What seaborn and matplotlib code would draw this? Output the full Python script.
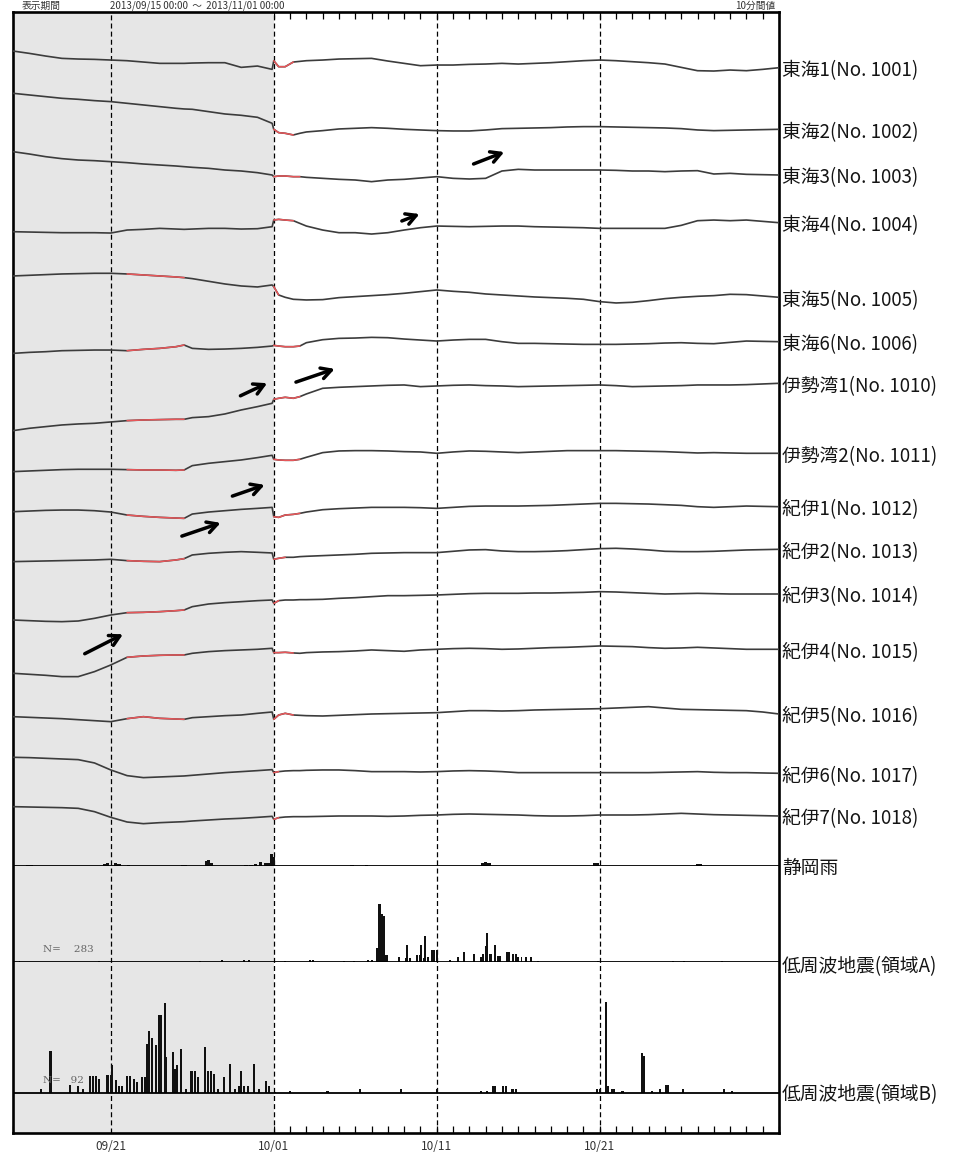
import numpy as np
import pandas as pd
import seaborn as sns
import matplotlib
matplotlib.use("Agg")
import matplotlib.pyplot as plt

# time grid, days after 2013/09/15 00:00
T = [0, 1, 2, 3, 4, 5, 6, 7, 8, 9, 10, 10.5, 11, 12, 13, 14, 15,
     15.9, 16, 16.3, 16.7, 17.2, 17.6] + list(range(18, 48))

stations = ["東海1(No. 1001)", "東海2(No. 1002)", "東海3(No. 1003)", "東海4(No. 1004)",
            "東海5(No. 1005)", "東海6(No. 1006)", "伊勢湾1(No. 1010)", "伊勢湾2(No. 1011)",
            "紀伊1(No. 1012)", "紀伊2(No. 1013)", "紀伊3(No. 1014)", "紀伊4(No. 1015)",
            "紀伊5(No. 1016)", "紀伊6(No. 1017)", "紀伊7(No. 1018)"]

# strain change, arbitrary units (up = positive)
tokai1 = [50, 43, 35, 28, 26, 25, 23, 21, 17, 13, 13, 13, 14, 15, 15, 1, 5,
          -5, 21, 3, 3, 17, 19,
          21, 23, 26, 27, 28, 20, 13, 6, 8, 8, 10, 11, 13, 11, 13, 15, 18, 21, 23, 21,
          18, 15, 11, 1, -9, -10, -7, -9, -5, 0]
tokai2 = [108, 103, 98, 93, 90, 86, 83, 78, 73, 68, 63, 61, 60, 53, 46, 42, 36,
          18, 0, -10, -12, -17, -12,
          -8, -4, 1, 3, 5, 3, 0, -2, -4, -5, -5, -2, 2, 3, 4, 5, 7, 8, 8, 7,
          6, 5, 4, 2, -2, -4, -3, -2, -1, 0]
tokai3 = [70, 63, 55, 49, 45, 43, 40, 37, 33, 30, 27, 25, 23, 20, 15, 12, 7,
          0, -5, -3, -3, -5, -5,
          -7, -10, -13, -15, -20, -15, -13, -9, -5, -10, -12, -10, 12, 17, 15, 15, 15, 15, 15, 14,
          12, 12, 10, 12, 13, 3, 5, 2, 1, 0]
tokai4 = [-27, -28, -29, -30, -30, -30, -31, -22, -20, -17, -19, -20, -19, -17, -17, -19, -18,
          -12, 8, 10, 8, 6, -2,
          -10, -22, -30, -30, -34, -30, -22, -15, -10, -11, -12, -11, -10, -10, -12, -13, -14, -15, -17, -17,
          -17, -17, -17, -8, 6, 8, 6, 8, 4, 0]
tokai5 = [64, 66, 68, 70, 71, 72, 72, 70, 67, 64, 61, 59, 56, 48, 40, 34, 31,
          37, 32, 7, 0, -6, -7,
          -8, -7, -1, 2, 5, 8, 12, 17, 22, 18, 15, 10, 7, 4, 1, -1, -3, -6, -13, -17,
          -15, -10, -4, 0, 3, 5, 9, 8, 4, 0]
tokai6 = [-35, -32, -30, -27, -26, -25, -25, -27, -23, -20, -15, -10, -20, -23, -22, -20, -17,
          -13, -11, -13, -15, -15, -13,
          -3, 6, 10, 11, 13, 12, 8, 5, 2, 5, 7, 7, 0, -5, -5, -6, -7, -8, -8, -8,
          -7, -6, -4, -3, -5, -6, -2, 2, 1, 0]
ise1 = [-142, -135, -130, -125, -122, -120, -116, -112, -110, -109, -108, -108, -103, -100, -92, -80, -70,
        -60, -48, -45, -42, -45, -40,
        -32, -15, -12, -10, -8, -6, -5, -10, -8, -6, -5, -7, -8, -10, -9, -8, -7, -6, -5, -7,
        -10, -9, -8, -7, -5, -5, -5, -4, -2, 0]
ise2 = [-55, -53, -51, -49, -48, -48, -48, -49, -50, -50, -51, -50, -37, -30, -25, -20, -13,
        -6, -18, -20, -21, -21, -18,
        -12, 2, 7, 8, 8, 7, 5, 4, 0, 4, 7, 6, 4, 2, 4, 6, 8, 8, 8, 8,
        7, 6, 5, 3, 1, 2, 1, 0, 0, 0]
kii1 = [-15, -13, -11, -10, -10, -12, -16, -25, -29, -32, -34, -35, -22, -16, -12, -8, -5,
        -2, -30, -32, -25, -23, -20,
        -16, -9, -6, -4, -2, -2, -2, -3, -5, -2, 1, 2, 2, 2, 3, 4, 6, 8, 10, 10,
        9, 8, 6, 4, 0, -2, 0, 2, 1, 0]
kii2 = [-37, -36, -35, -34, -33, -32, -30, -34, -36, -37, -32, -28, -17, -12, -9, -7, -9,
        -11, -30, -27, -24, -24, -22,
        -21, -19, -17, -15, -12, -11, -10, -10, -10, -6, -2, -1, -5, -7, -7, -6, -4, -1, 2, 3,
        1, -2, -6, -7, -7, -6, -4, -2, -1, 0]
kii3 = [-78, -80, -82, -83, -81, -73, -63, -56, -55, -53, -50, -48, -38, -30, -26, -23, -20,
        -18, -28, -20, -18, -18, -17,
        -17, -16, -13, -11, -8, -5, -5, -4, -3, -1, 1, 2, 2, 2, 3, 3, 4, 5, 7, 6,
        4, 2, 0, 1, 2, 1, 0, 0, 0, 0]
kii4 = [-72, -75, -78, -82, -82, -67, -47, -24, -20, -18, -17, -17, -12, -7, -4, -2, 0,
        3, -10, -10, -9, -11, -12,
        -10, -8, -7, -5, -2, -4, -6, -2, 0, 2, 3, 2, 0, 1, 3, 5, 6, 8, 10, 9,
        8, 5, 3, 4, 6, 4, 2, 0, 0, 0]
kii5 = [-8, -10, -12, -14, -17, -20, -23, -14, -8, -13, -15, -16, -11, -8, -5, -3, 2,
        6, -16, -3, 2, -3, -4,
        -5, -6, -4, -2, 0, 1, 2, 3, 4, 7, 10, 10, 9, 10, 12, 13, 14, 15, 16, 18,
        20, 22, 18, 14, 13, 12, 11, 10, 6, 0]
kii6 = [48, 47, 45, 43, 41, 31, 10, -7, -13, -11, -9, -8, -6, -2, 2, 5, 8,
        11, 2, 5, 7, 8, 8,
        9, 10, 10, 8, 5, 5, 5, 4, 5, 7, 8, 7, 5, 2, 2, 2, 2, 2, 2, 2,
        2, 2, 3, 4, 5, 3, 2, 2, 1, 0]
kii7 = [28, 27, 26, 25, 23, 13, -4, -18, -23, -20, -18, -17, -15, -12, -9, -7, -4,
        -1, -10, -5, -3, -2, -2,
        -2, -1, 0, 0, 0, -1, 0, 2, 3, 5, 6, 5, 4, 3, 1, 0, 0, 1, 3, 3,
        3, 4, 6, 8, 6, 4, 3, 2, 1, 0]
traces = [tokai1, tokai2, tokai3, tokai4, tokai5, tokai6, ise1, ise2,
          kii1, kii2, kii3, kii4, kii5, kii6, kii7]

# periods drawn in red (corrected data)
red_spans = [[(16, 17.2)], [(16, 17.2)], [(16, 17.6)], [(16, 17.2)],
             [(7, 10.5), (16, 16.3)], [(7, 10.5), (16, 17.6)], [(7, 10.5), (16, 17.6)],
             [(7, 10.5), (16, 17.6)], [(7, 10.5), (16, 17.6)], [(7, 10.5), (16, 16.7)],
             [(7, 10.5), (16, 16.3)], [(7, 10.5), (16, 17.2)], [(7, 10.5), (16, 17.2)],
             [(16, 16.3)], [(16, 16.3)]]

# Shizuoka rain (mm/h)
rain_day = [0.9, 1.1, 5.6, 5.8, 6.3, 6.5, 7.1, 10.4, 10.6, 11.9, 12.0, 12.2, 14.3, 14.6,
            14.9, 15.2, 15.5, 15.7, 15.85, 15.95, 20.8, 21.7, 28.8, 29.0, 29.2, 35.7, 35.85,
            42.0, 42.2]
rain_mm = [1, 1, 2, 3, 3, 2, 1, 1, 1, 5, 6, 3, 1, 1, 2, 4, 3, 3, 12, 9, 1, 1, 3, 4, 3, 3, 3, 2, 2]

# low frequency earthquakes, region A (counts)
lfeA_day = [0.4, 5.3, 11.5, 12.8, 14.2, 14.5, 16.7, 18.2, 18.4, 20.3, 20.9, 21.8, 22.0,
            22.35, 22.45, 22.55, 22.65, 22.75, 22.85, 22.95, 23.7, 24.1, 24.2, 24.35, 24.8,
            24.95, 25.05, 25.2, 25.3, 25.45, 25.7, 25.85, 26.0, 26.8, 27.3, 27.7, 28.3, 28.7,
            28.85, 29.0, 29.1, 29.25, 29.35, 29.6, 29.75, 29.9, 30.3, 30.45, 30.7, 30.85,
            31.0, 31.2, 31.5, 31.8, 32.2, 35.9, 40.5, 41.2, 43.5]
lfeA_n = [0.5, 0.5, 0.5, 1, 1, 1, 0.5, 1, 1, 0.5, 0.5, 1, 1,
          6, 24, 24, 20, 19, 3, 3, 2, 1.5, 7, 1.5, 3,
          3, 7, 1.5, 11, 2, 5, 5, 5, 1, 2, 4, 3.5, 2,
          3.5, 6.5, 12, 3.5, 3.5, 7, 2.5, 2.5, 4, 4, 3.5, 3.5,
          2, 2, 2, 2, 0.5, 0.5, 0.5, 0.5, 0.5]

# low frequency earthquakes, region B (counts)
lfeB_day = [1.7, 2.3, 3.5, 4.0, 4.3, 4.7, 4.9, 5.1, 5.3, 5.8, 6.0, 6.1, 6.3, 6.5, 6.7,
            7.0, 7.2, 7.4, 7.6, 7.9, 8.1, 8.25, 8.35, 8.55, 8.75, 8.95, 9.05, 9.3, 9.4,
            9.8, 9.95, 10.05, 10.3, 10.6, 10.95, 11.15, 11.35, 11.8, 11.95, 12.15, 12.35,
            12.6, 12.95, 13.3, 13.6, 13.9, 14.0, 14.15, 14.4, 14.8, 15.1, 15.55, 15.7,
            16.1, 17.0, 19.3, 21.3, 23.8, 26.0, 28.7, 29.1, 29.45, 29.6, 30.05, 30.25,
            30.65, 30.85, 35.85, 36.0, 36.4, 36.5, 36.75, 36.9, 37.4, 38.6, 38.72, 39.2,
            39.7, 40.05, 40.2, 41.1, 43.6, 44.1]
lfeB_n = [1.5, 17.5, 3.5, 3, 1.5, 7, 7, 7, 6, 7.5, 7.5, 11.5, 5.5, 3, 3,
          7, 7, 6, 4.5, 6.5, 6.5, 20.5, 26, 23, 20, 32.5, 32.5, 37.5, 15,
          17, 10, 11.5, 18.5, 1.5, 9, 9, 6.5, 19, 9, 9, 8,
          1.5, 6.5, 12, 1.5, 3, 9, 3, 3, 12, 1.5, 5, 3,
          0.5, 1, 1, 1.5, 1.5, 1.5, 1, 1, 3, 3, 3, 3,
          1.5, 1.5, 1.5, 1.5, 38, 3, 1.5, 1.5, 1, 16.5, 15.5, 1,
          1.5, 3.5, 3.5, 1.5, 1.5, 1]

date_ticks = [6, 16, 26, 36]
date_labels = ["09/21", "10/01", "10/11", "10/21"]

# ---------------------------------------------------------------- layout
W, H = 956, 1152
L, R, TOP, BOT = 13, 779, 12, 1133
base_px = [67.7, 129.3, 175, 222.7, 297.3, 341.7, 383.3, 453.3, 506.7, 549.3,
           594, 649.3, 714, 773.3, 816]
GAIN = 1 / 3.0
LABEL_FS = 13.5

sns.set_theme(style="white")
plt.rcParams["font.family"] = ["Noto Sans CJK JP", "DejaVu Sans"]


def rect(y0, y1):
    return [L / W, 1 - y1 / H, (R - L) / W, (y1 - y0) / H]


def overlay(y0, y1):
    ax = fig.add_axes(rect(y0, y1))
    ax.patch.set_visible(False)
    for s in ax.spines.values():
        s.set_visible(False)
    ax.set_xticks([])
    ax.set_yticks([])
    ax.set_xlim(0, 47)
    return ax


def side_label(ax, text, y, dy):
    ax.annotate(text, xy=(1, y), xycoords=("axes fraction", "data"),
                xytext=(2.0, dy), textcoords="offset points", va="center", ha="left",
                fontsize=LABEL_FS, color="#141414", annotation_clip=False)


fig = plt.figure(figsize=(W / 100, H / 100), dpi=100)

bg = fig.add_axes(rect(TOP, BOT))
bg.set_xlim(0, 47)
bg.set_ylim(0, 1)
bg.axvspan(0, 16, color="#e6e6e6", lw=0)
for d in date_ticks:
    bg.axvline(d, color="black", lw=0.9, ls=(0, (4, 2.5)))
for s in bg.spines.values():
    s.set_linewidth(1.9)
    s.set_color("black")
bg.set_yticks([])
bg.set_xticks(date_ticks)
bg.set_xticklabels(date_labels)
bg.set_xticks(range(48), minor=True)
bg.tick_params(which="both", direction="in", top=True, bottom=True, length=5,
               width=0.9, color="black")
bg.tick_params(axis="x", which="major", labelsize=8.5, labelcolor="#333333", pad=5)
bg.grid(False)

# strain traces
ax_tr = overlay(TOP, 836)
ax_tr.set_ylim(836, TOP)
t_arr = np.array(T)
for name, vals, base, spans in zip(stations, traces, base_px, red_spans):
    y = base - GAIN * np.array(vals)
    sns.lineplot(x=t_arr, y=y, ax=ax_tr, color="#3c3c3c", lw=1.2, sort=False)
    for a, b in spans:
        m = (t_arr >= a) & (t_arr <= b)
        ax_tr.plot(t_arr[m], y[m], color="#e8575a", lw=1.1)
    side_label(ax_tr, name, base, -2.2)
ax_tr.set_xlabel("")
ax_tr.set_ylabel("")

arrows = [((28.1, 165), (30.3, 151)), ((23.7, 222), (25.1, 213)),
          ((13.8, 397), (15.75, 382)), ((17.2, 383), (19.9, 368)),
          ((13.3, 497), (15.6, 484)), ((10.2, 537), (12.9, 522)),
          ((4.25, 655), (6.9, 633))]
for tail, head in arrows:
    ax_tr.annotate("", xy=head, xytext=tail,
                   arrowprops=dict(arrowstyle="->,head_length=0.6,head_width=0.33",
                                   lw=2.5, color="black"))

# rain
ax_rain = overlay(836, 866)
ax_rain.set_ylim(0, 30)
ax_rain.bar(rain_day, rain_mm, width=0.2, color="#111111", lw=0)
ax_rain.axhline(0, color="black", lw=1.3)
side_label(ax_rain, "静岡雨", 0, -1.5)

# region A
ax_a = overlay(866, 962)
ax_a.set_ylim(0, 40)
ax_a.text(1.85, 5, "N=    283", fontsize=7.5, color="#666666", family="DejaVu Serif",
          va="center")
ax_a.bar(lfeA_day, lfeA_n, width=0.12, color="#111111", lw=0)
ax_a.axhline(0, color="black", lw=1.3)
side_label(ax_a, "低周波地震(領域A)", 0, -3)

# region B
ax_b = overlay(962, BOT)
ax_b.set_ylim(-40 / 2.4, 131 / 2.4)
ax_b.text(1.85, 5.4, "N=   92", fontsize=7.5, color="#666666", family="DejaVu Serif",
          va="center")
ax_b.bar(lfeB_day, lfeB_n, width=0.13, color="#111111", lw=0)
ax_b.axhline(0, color="black", lw=1.3)
side_label(ax_b, "低周波地震(領域B)", 0, -1.5)

# header above the frame
fig.text(22 / W, 1 - 5.5 / H, "表示期間", fontsize=7, color="#333333", va="center")
fig.text(110 / W, 1 - 5.5 / H, "2013/09/15 00:00  ～  2013/11/01 00:00", fontsize=7,
         color="#333333", va="center")
fig.text(775 / W, 1 - 5.5 / H, "10分間値", fontsize=7, color="#333333", va="center",
         ha="right")

fig.savefig("out.png", dpi=100)
